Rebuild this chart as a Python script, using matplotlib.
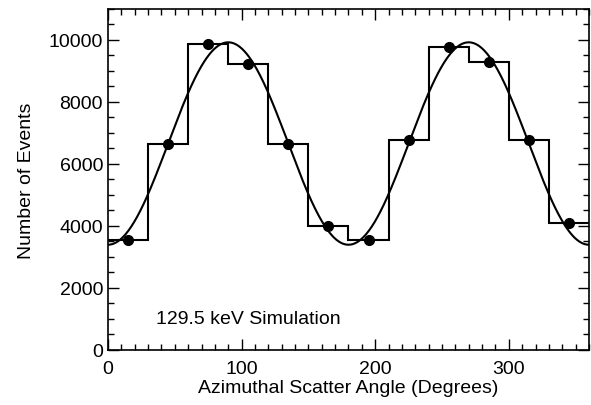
import numpy as np
import matplotlib
matplotlib.use('Agg')
import matplotlib.pyplot as plt
from matplotlib.ticker import MultipleLocator

# histogram bins (degrees) and counts
bin_edges = [0, 30, 60, 90, 120, 150, 180, 210, 240, 270, 300, 330, 360]
counts = [3550, 6630, 9880, 9210, 6660, 4010, 3550, 6760, 9770, 9300, 6760, 4090]

# fitted modulation curve parameters: N = mean - amp*cos(2*(phi - phase))
fit_mean = 6660
fit_amp = 3265
fit_phase = 0.0

plt.rcParams['font.family'] = ['Liberation Sans', 'DejaVu Sans']

fig = plt.figure(figsize=(5.91, 4.06), dpi=100)
ax = fig.add_axes([0.1827, 0.1355, 0.8139, 0.8399])

edges = np.array(bin_edges)
centers = 0.5 * (edges[:-1] + edges[1:])

ax.stairs(counts, edges, color='black', linewidth=1.5, baseline=None)
ax.plot(centers, counts, 'o', color='black', markersize=7)

phi = np.linspace(0, 360, 721)
curve = fit_mean - fit_amp * np.cos(np.radians(2 * (phi - fit_phase)))
ax.plot(phi, curve, color='black', linewidth=1.5)

ax.text(36, 1000, '129.5 keV Simulation', fontsize=14, va='center', ha='left')

ax.set_xlim(0, 360)
ax.set_ylim(0, 11000)
ax.xaxis.set_major_locator(MultipleLocator(100))
ax.xaxis.set_minor_locator(MultipleLocator(10))
ax.yaxis.set_major_locator(MultipleLocator(2000))
ax.yaxis.set_minor_locator(MultipleLocator(500))
ax.tick_params(which='both', direction='in', top=True, right=True, labelsize=14, width=1)
ax.tick_params(which='major', length=8)
ax.tick_params(which='minor', length=4)
ax.tick_params(axis='x', pad=7)
for s in ax.spines.values():
    s.set_linewidth(1.2)

ax.set_xlabel('Azimuthal Scatter Angle (Degrees)', fontsize=14, labelpad=2)
ax.set_ylabel('Number of Events', fontsize=14, labelpad=10)

fig.savefig('out.png', dpi=100)
